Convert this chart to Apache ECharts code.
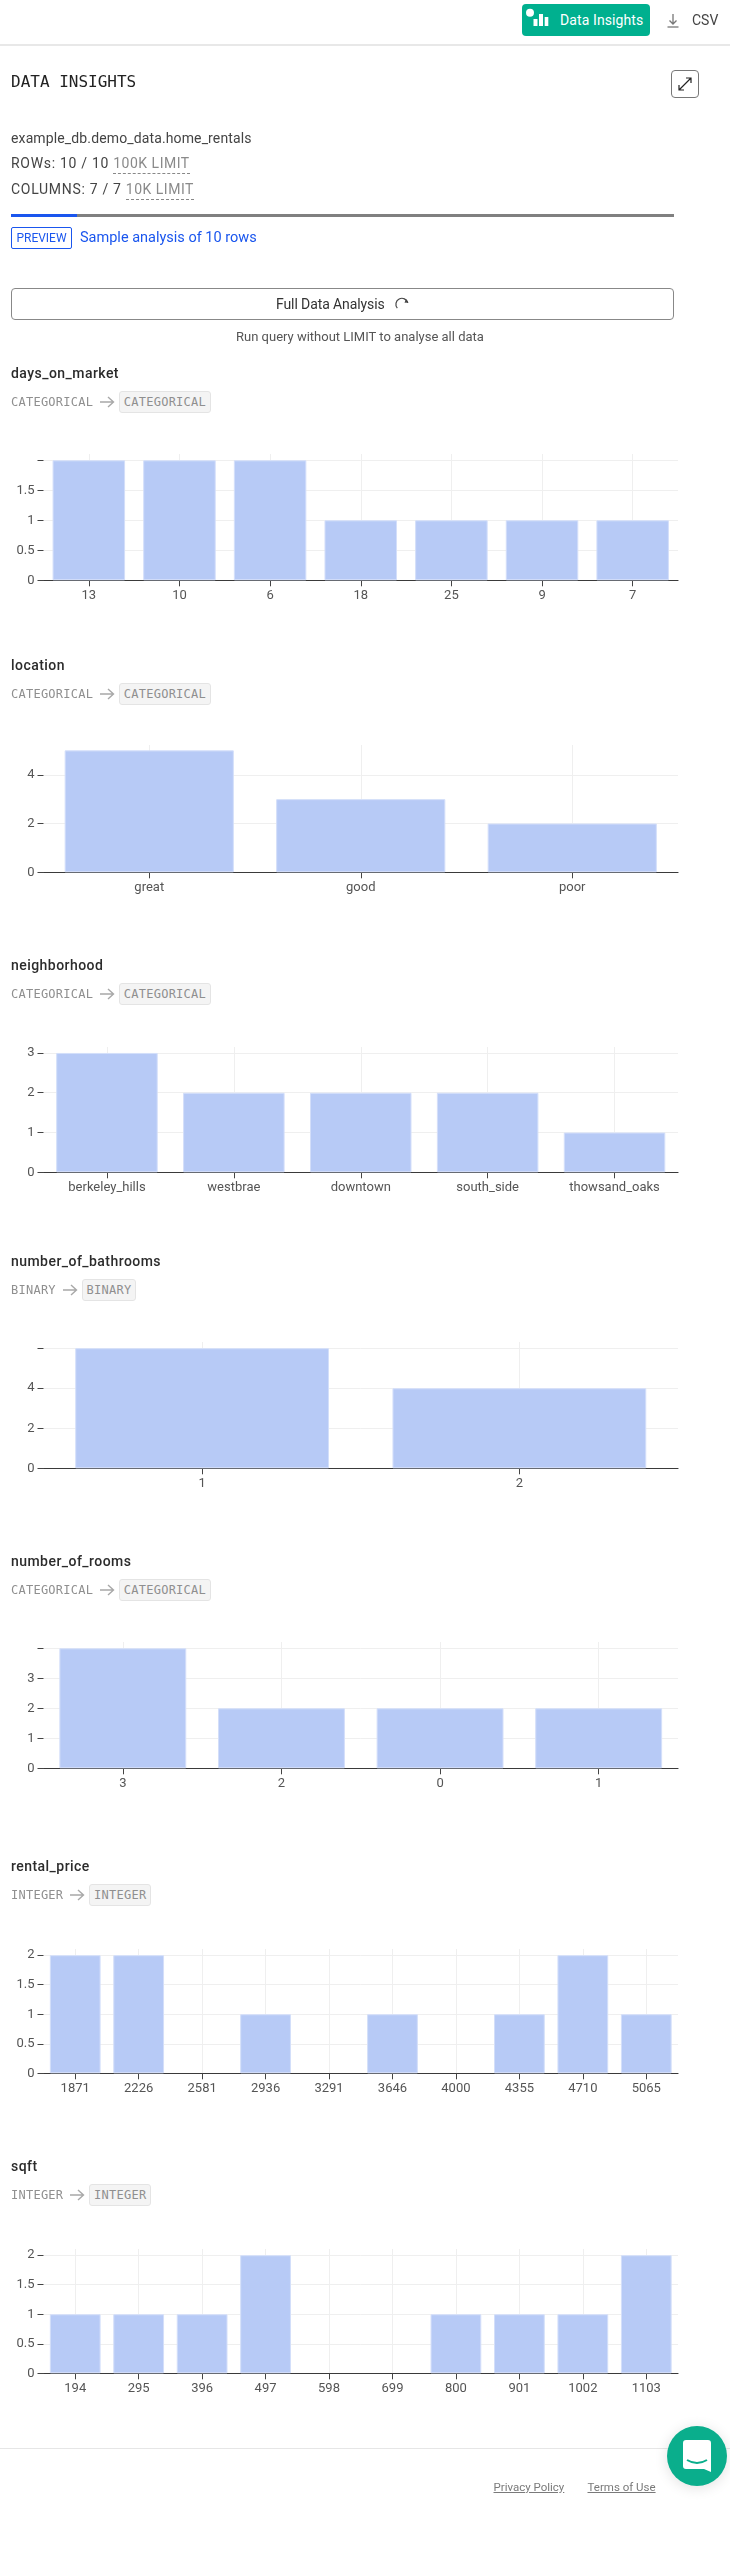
<!DOCTYPE html>
<html><head><meta charset="utf-8">
<script src="https://cdn.jsdelivr.net/npm/echarts@6/dist/echarts.min.js"></script>
<style>
html,body{margin:0;padding:0;background:#fff;width:730px;height:2550px;overflow:hidden;font-family:Roboto,sans-serif;color:#333}
.a{position:absolute;white-space:nowrap;line-height:1}
.m{font-family:"DejaVu Sans Mono",monospace}
#chart{position:absolute;left:0;top:0;width:730px;height:2550px}
.lim{color:#8a8a8a;border-bottom:1px dashed #888;padding-bottom:2px;letter-spacing:.5px}
.title{font-size:14px;font-weight:500;color:#2b2b2b;letter-spacing:.45px;left:11px}
.tag{font-size:12px;color:#8f8f8f;letter-spacing:.25px}
.badge{background:#f4f4f4;border:1px solid #e4e4e4;border-radius:3px;box-sizing:border-box;height:22px;line-height:20px;text-align:center}
</style></head><body>
<div id="chart"></div>
<div id="page"></div>
<script>
// ---------- data ----------
const columnNames = ['days_on_market','location','neighborhood','number_of_bathrooms','number_of_rooms','rental_price','sqft'];
const columnTypes = ['CATEGORICAL','CATEGORICAL','CATEGORICAL','BINARY','CATEGORICAL','INTEGER','INTEGER'];

const daysCategories = ['13','10','6','18','25','9','7'];
const daysValues = [2,2,2,1,1,1,1];
const locationCategories = ['great','good','poor'];
const locationValues = [5,3,2];
const neighborhoodCategories = ['berkeley_hills','westbrae','downtown','south_side','thowsand_oaks'];
const neighborhoodValues = [3,2,2,2,1];
const bathroomsCategories = ['1','2'];
const bathroomsValues = [6,4];
const roomsCategories = ['3','2','0','1'];
const roomsValues = [4,2,2,2];
const priceCategories = ['1871','2226','2581','2936','3291','3646','4000','4355','4710','5065'];
const priceValues = [2,2,0,1,0,1,0,1,2,1];
const sqftCategories = ['194','295','396','497','598','699','800','901','1002','1103'];
const sqftValues = [1,1,1,2,0,0,1,1,1,2];

const daysTicks = [0,0.5,1,1.5,2];       const daysLabels = [0,0.5,1,1.5];
const locationTicks = [0,2,4];           const locationLabels = [0,2,4];
const neighborhoodTicks = [0,1,2,3];     const neighborhoodLabels = [0,1,2,3];
const bathroomsTicks = [0,2,4,6];        const bathroomsLabels = [0,2,4];
const roomsTicks = [0,1,2,3,4];          const roomsLabels = [0,1,2,3];
const priceTicks = [0,0.5,1,1.5,2];      const priceLabels = [0,0.5,1,1.5,2];
const sqftTicks = [0,0.5,1,1.5,2];       const sqftLabels = [0,0.5,1,1.5,2];

const daysMax = 2.105, locationMax = 5.22, neighborhoodMax = 3.15, bathroomsMax = 6.31, roomsMax = 4.21, priceMax = 2.105, sqftMax = 2.105;

const allCategories = [daysCategories,locationCategories,neighborhoodCategories,bathroomsCategories,roomsCategories,priceCategories,sqftCategories];
const allValues = [daysValues,locationValues,neighborhoodValues,bathroomsValues,roomsValues,priceValues,sqftValues];
const allTicks = [daysTicks,locationTicks,neighborhoodTicks,bathroomsTicks,roomsTicks,priceTicks,sqftTicks];
const allLabels = [daysLabels,locationLabels,neighborhoodLabels,bathroomsLabels,roomsLabels,priceLabels,sqftLabels];
const allMax = [daysMax,locationMax,neighborhoodMax,bathroomsMax,roomsMax,priceMax,sqftMax];

// ---------- layout ----------
const plotTops = [454,745,1047,1342,1642,1949,2249];
const plotZeros = [580.3,872.3,1172.3,1468.3,1768.3,2073.3,2373.3];
const titleYs = [373,665,965,1261,1561,1866,2166];
const tagYs = [402,694,994,1290,1590,1895,2195];
const plotLeft = 43.5, plotRight = 678;
const LABEL = '#555555', FONT = 'Roboto';

const grids=[],xAxes=[],yAxes=[],series=[];
allCategories.forEach((cats,i)=>{
  grids.push({left:plotLeft,top:plotTops[i],width:plotRight-plotLeft,height:plotZeros[i]-plotTops[i],containLabel:false});
  xAxes.push({type:'category',gridIndex:i,data:cats,
    axisLine:{show:true,lineStyle:{color:'#3a3a3a',width:1.2}},
    axisTick:{show:true,alignWithLabel:true,length:6,interval:0,lineStyle:{color:'#444',width:1}},
    axisLabel:{show:true,interval:0,margin:9,fontFamily:FONT,fontSize:13,color:LABEL,letterSpacing:0},
    splitLine:{show:true,alignWithLabel:true,interval:0,lineStyle:{color:'#efefef',width:1}}});
  yAxes.push({type:'value',gridIndex:i,min:0,max:allMax[i],
    axisLine:{show:false},
    axisTick:{show:true,length:6,customValues:allTicks[i],lineStyle:{color:'#444',width:1}},
    axisLabel:{show:true,margin:9,fontFamily:FONT,fontSize:13,color:LABEL,customValues:allLabels[i],formatter:v=>String(v)},
    splitLine:{show:true,lineStyle:{color:'#efefef',width:1}}});
  series.push({type:'bar',xAxisIndex:i,yAxisIndex:i,barCategoryGap:'20%',silent:true,
    data:allValues[i].map(v=>v===0?{value:v,itemStyle:{opacity:0}}:v),
    itemStyle:{color:'#b7caf6',borderColor:'#d4dffa',borderWidth:1}});
});
const chart = echarts.init(document.getElementById('chart'),null,{renderer:'canvas',width:730,height:2550});
chart.setOption({animation:false,grid:grids,xAxis:xAxes,yAxis:yAxes,series});

// ---------- page furniture ----------
const arrow = (x,y)=>`<svg class="a" style="left:${x}px;top:${y-7}px" width="16" height="14" viewBox="0 0 16 14"><path d="M1 7H14M9 2L14.5 7L9 12" fill="none" stroke="#a8a8a8" stroke-width="1.4"/></svg>`;
let html = `
<div class="a" style="left:0;top:44px;width:730px;height:2px;background:#e8e8e8"></div>
<div class="a" style="left:522px;top:4px;width:128px;height:32px;background:#00b08f;border-radius:4px"></div>
<svg class="a" style="left:522px;top:4px" width="30" height="32"><circle cx="8" cy="8.7" r="4" fill="#fff"/><rect x="11.5" y="15" width="4" height="7" fill="#fff"/><rect x="17" y="10" width="4" height="12" fill="#fff"/><rect x="22.7" y="13" width="3.6" height="9" fill="#fff"/></svg>
<div class="a" style="left:560px;top:13px;font-size:14px;letter-spacing:.1px;color:#fff">Data Insights</div>
<svg class="a" style="left:666px;top:12px" width="14" height="16"><path d="M7 2V12M3.5 8.5L7 12L10.5 8.5" fill="none" stroke="#777" stroke-width="1.3"/><path d="M1.5 15H12.5" stroke="#777" stroke-width="1.3"/></svg>
<div class="a" style="left:692px;top:13px;font-size:14px;color:#444">CSV</div>
<div class="a m" style="left:11px;top:74px;font-size:16px;color:#222">DATA INSIGHTS</div>
<div class="a" style="left:671px;top:70px;width:28px;height:28px;box-sizing:border-box;border:1px solid #777;border-radius:4px"></div>
<svg class="a" style="left:671px;top:70px" width="28" height="28"><path d="M8 20L20 8M15 8H20V13M8 15V20H13" fill="none" stroke="#222" stroke-width="1.2"/></svg>
<div class="a" style="left:11px;top:131px;font-size:14px;color:#444;letter-spacing:.13px">example_db.demo_data.home_rentals</div>
<div class="a" style="left:11px;top:156px;font-size:14px;color:#444;letter-spacing:.7px">ROWs: 10 / 10 <span class="lim">100K LIMIT</span></div>
<div class="a" style="left:11px;top:182px;font-size:14px;color:#444;letter-spacing:.7px">COLUMNS: 7 / 7 <span class="lim">10K LIMIT</span></div>
<div class="a" style="left:11px;top:214px;width:663px;height:3px;background:#808080"></div>
<div class="a" style="left:11px;top:214px;width:66px;height:3px;background:#1a56ee"></div>
<div class="a" style="left:11px;top:227px;width:61px;height:22px;box-sizing:border-box;border:1px solid #1a56ee;border-radius:2px;color:#1a56ee;font-size:12px;line-height:20px;text-align:center">PREVIEW</div>
<div class="a" style="left:80px;top:231px;font-size:14.5px;color:#1a56ee">Sample analysis of 10 rows</div>
<div class="a" style="left:11px;top:288px;width:663px;height:32px;box-sizing:border-box;border:1px solid #888;border-radius:4px"></div>
<div class="a" style="left:276px;top:297px;font-size:14px;color:#333;letter-spacing:-.1px">Full Data Analysis</div>
<svg class="a" style="left:394px;top:296px" width="17" height="16"><path d="M5 13.5A6 6 0 1 1 13 5" transform="rotate(20 8 8)" fill="none" stroke="#444" stroke-width="1.2"/><path d="M12 3L14.5 6.5L10.5 6.8Z" fill="#444"/></svg>
<div class="a" style="left:236px;top:330px;font-size:13px;color:#555">Run query without LIMIT to analyse all data</div>
<div class="a" style="left:0;top:2448px;width:730px;height:1px;background:#e6e6e6"></div>
<div class="a" style="left:493.5px;top:2482px;font-size:11.5px;color:#7a7a7a;text-decoration:underline">Privacy Policy</div>
<div class="a" style="left:587.5px;top:2482px;font-size:11.5px;color:#7a7a7a;text-decoration:underline">Terms of Use</div>
<div class="a" style="left:667px;top:2426px;width:60px;height:60px;border-radius:50%;background:#0aae8c;box-shadow:0 2px 14px rgba(0,0,0,.12)"></div>
<svg class="a" style="left:667px;top:2426px" width="60" height="60"><path d="M19 14H41Q44 14 44 17V46L37 43H19Q16 43 16 40V17Q16 14 19 14Z" fill="#fff"/><path d="M20 34Q30 40 40 34" fill="none" stroke="#0aae8c" stroke-width="2"/></svg>`;
columnNames.forEach((n,i)=>{
  const t=columnTypes[i], w=t.length*7.45, ax=11+w+6, bx=ax+20, bw=w+10;
  html+=`<div class="a title" style="top:${titleYs[i]-7}px">${n}</div>
<div class="a m tag" style="left:11px;top:${tagYs[i]-6}px">${t}</div>${arrow(ax,tagYs[i])}
<div class="a m tag badge" style="left:${bx}px;top:${tagYs[i]-11}px;width:${bw}px">${t}</div>`;
});
document.getElementById('page').innerHTML=html;
</script>
</body></html>
